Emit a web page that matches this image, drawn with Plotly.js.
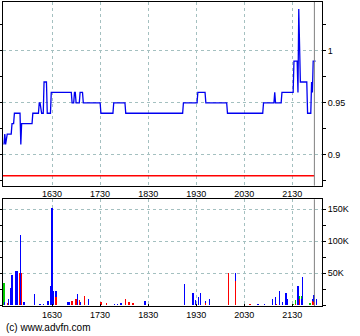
<!DOCTYPE html>
<html><head><meta charset="utf-8">
<script src="https://cdn.plot.ly/plotly-3.0.1.min.js"></script>
<style>html,body{margin:0;padding:0;background:#fff}#c{width:360px;height:336px}</style>
</head><body><div id="c"></div>
<script>
// times as HHMM
const priceTimes = [1530,1531,1532,1534,1539,1540,1542,1543,1550,1551,1552,1605,1606,1613,1614,1615,1617,1619,1620,1623,1624,1628,1629,1654,1655,1657,1658,1659,1700,1704,1705,1708,1709,1730,1731,1746,1747,1801,1802,1913,1914,1931,1932,1941,1942,2008,2009,2053,2054,2107,2108,2109,2116,2117,2131,2132,2136,2137,2138,2140,2148,2149,2153,2154,2155,2156,2159];
const prices = [0.91,0.92,0.91,0.92,0.92,0.93,0.93,0.94,0.94,0.91,0.93,0.93,0.94,0.94,0.95,0.95,0.94,0.94,0.97,0.97,0.94,0.94,0.96,0.96,0.95,0.95,0.96,0.96,0.95,0.95,0.96,0.96,0.95,0.95,0.94,0.94,0.95,0.95,0.94,0.94,0.95,0.95,0.96,0.96,0.95,0.95,0.94,0.94,0.95,0.95,0.96,0.95,0.95,0.96,0.96,0.99,0.99,0.96,1.04,0.97,0.97,0.94,0.94,0.97,0.96,0.99,0.99];
const prevClose = 0.88;
const nowTime = 2157;

const blueTimes = [1531,1536,1538,1540,1545,1547,1551,1555,1556,1608,1615,1619,1625,1628,1630,1632,1635,1650,1652,1702,1705,1715,1748,1752,1756,1826,1915,1925,1926,1929,1933,1935,1942,1947,2019,2047,2055,2105,2109,2114,2118,2122,2123,2124,2137,2141,2143,2155,2157,2200];
const blueVol = [4000,10000,26000,47000,53000,53000,109000,4000,3000,18000,2000,2000,6000,29000,151000,22000,10000,5000,5000,17000,5000,9000,2000,2000,3000,6000,33000,5000,19000,8000,13000,19000,3000,9000,12000,2000,2000,9000,12000,22000,5000,19000,9000,9000,30000,9000,44000,2000,12000,9000];
const redTimes = [1534,1549,1550,1552,1635,1655,1659,1701,1704,1710,1731,1738,1802,1806,1811,1942,2010,2019,2037,2110,2134,2138,2139,2155,2157];
const redVol = [3000,50000,50000,50000,12000,7000,10000,10000,8000,14000,5000,3000,10000,4000,3000,3000,50000,38000,2000,2000,2000,18000,10000,7000,4000];
const greenTimes = [1530,1629,2131,2134,2139,2142,2152];
const greenVol = [34000,3000,2000,6000,4000,14000,3000];

const xTickVals = [1630,1730,1830,1930,2030,2130];
const xTickText = ["1630","1730","1830","1930","2030","2130"];
const pTickVals = [0.9,0.95,1];
const pTickText = ["0.9","0.95","1"];
const pMinorVals = [0.875,0.925,0.975,1.025];
const vTickVals = [50000,100000,150000];
const vTickText = ["50K","100K","150K"];
const vMinorVals = [0,25000,75000,125000];

const toMin = h => Math.floor(h/100)*60 + (h%100);
const m = a => a.map(toMin);

const gridC = '#a4c0c0';
const font = {family:'"Liberation Sans", Arial, sans-serif', size:9, color:'#000'};
const xr = [928.75, 1327];
const nowX = toMin(nowTime) + 0.5;

const traces = [
  {type:'scatter', mode:'lines', x:m(priceTimes), y:prices, xaxis:'x', yaxis:'y',
   line:{color:'#0000f0', width:1.3}, hoverinfo:'skip'},
  {type:'bar', x:m(redTimes), y:redVol, xaxis:'x2', yaxis:'y2', width:1.5, marker:{color:'#ff0000', line:{width:0}}},
  {type:'bar', x:m(greenTimes), y:greenVol, xaxis:'x2', yaxis:'y2', width:1.5, marker:{color:'#00cc00', line:{width:0}}},
  {type:'bar', x:m(blueTimes), y:blueVol, xaxis:'x2', yaxis:'y2', width:1.5, marker:{color:'#0000ff', line:{width:0}}}
];

const xCommon = {range:xr, tickmode:'array', tickvals:m(xTickVals), ticktext:xTickText,
  showgrid:true, gridcolor:gridC, griddash:'dot', gridwidth:1, showline:true, linecolor:'#000', linewidth:1,
  mirror:true, zeroline:false, tickfont:font};

const layout = {
  width:360, height:336, margin:{l:3, r:38, t:2, b:30}, paper_bgcolor:'#fff', plot_bgcolor:'#fff',
  showlegend:false, barmode:'stack', bargap:0, font:font,
  xaxis: Object.assign({}, xCommon, {anchor:'y', ticks:'', ticklen:0}),
  yaxis: {domain:[0.396,1], range:[0.8705,1.0468], side:'right', tickmode:'array', tickvals:pTickVals, ticktext:pTickText,
    ticks:'outside', ticklen:3, tickcolor:'#000', mirror:'allticks', showline:true, linecolor:'#000', linewidth:1,
    showgrid:true, gridcolor:gridC, griddash:'dot', zeroline:false, tickfont:font,
    minor:{tickmode:'array', tickvals:pMinorVals, ticks:'outside', ticklen:3, tickcolor:'#000', showgrid:false}},
  xaxis2: Object.assign({}, xCommon, {anchor:'y2', ticks:'inside', ticklen:2, tickcolor:'#000'}),
  yaxis2: {domain:[0,0.351], range:[-1500,165200], side:'right', tickmode:'array', tickvals:vTickVals, ticktext:vTickText,
    ticks:'outside', ticklen:3, tickcolor:'#000', mirror:'allticks', showline:true, linecolor:'#000', linewidth:1,
    showgrid:true, gridcolor:gridC, griddash:'dot', zeroline:false, tickfont:font,
    minor:{tickmode:'array', tickvals:vMinorVals, ticks:'outside', ticklen:3, tickcolor:'#000', showgrid:false}},
  shapes:[
    {type:'line', xref:'x', yref:'y', x0:xr[0], x1:nowX, y0:prevClose, y1:prevClose, line:{color:'#ff0000', width:1.5}},
    {type:'line', xref:'x', yref:'y domain', x0:nowX, x1:nowX, y0:0, y1:1, line:{color:'#808080', width:1}},
    {type:'line', xref:'x2', yref:'y2 domain', x0:nowX, x1:nowX, y0:0, y1:1, line:{color:'#808080', width:1}}
  ],
  annotations:[
    {text:'(c) www.advfn.com', xref:'paper', yref:'paper', x:0, y:-0.072, xanchor:'left', yanchor:'middle', showarrow:false,
     xshift:1, font:{family:'"Liberation Sans", Arial, sans-serif', size:10, color:'#000'}}
  ]
};
Plotly.newPlot('c', traces, layout, {staticPlot:true, displayModeBar:false});
</script></body></html>
